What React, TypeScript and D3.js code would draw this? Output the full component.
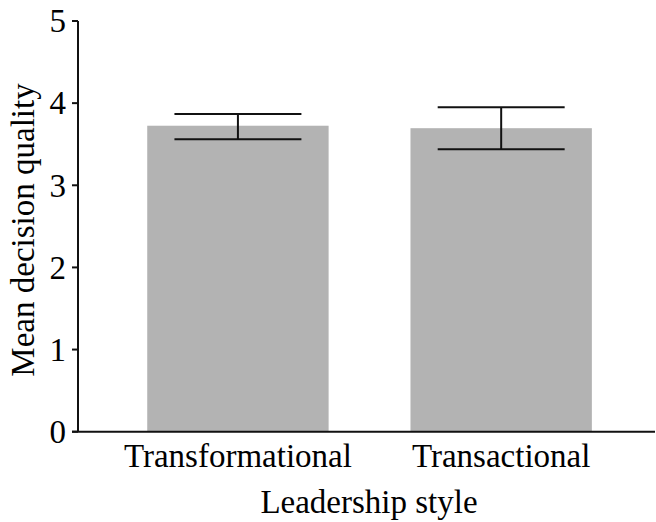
import React from "react";
import * as d3 from "d3";

const categories = ["Transformational", "Transactional"];
const means = [3.725, 3.695];
const errLow = [3.56, 3.44];
const errHigh = [3.868, 3.95];
const yTicks = [0, 1, 2, 3, 4, 5];
const xTitle = "Leadership style";
const yTitle = "Mean decision quality";

const W = 656;
const H = 522;
const axisX = 78;
const axisY = 431.7;
const yTop = 21;
const xEnd = 655;
const FONT = "'Liberation Serif', 'Times New Roman', serif";

export default function App() {
  const y = d3.scaleLinear().domain([0, 5]).range([axisY, yTop]);
  const x = d3
    .scaleBand<string>()
    .domain(categories)
    .range([106.3, 632.8])
    .paddingInner(0.311)
    .paddingOuter(0.1555);
  const bw = x.bandwidth();
  const capW = bw * 0.7;

  return (
    <svg
      width={W}
      height={H}
      style={{ position: "absolute", left: 0, top: 0, background: "#fff" }}
      fontFamily={FONT}
    >
      {categories.map((c, i) => (
        <rect
          key={c}
          x={x(c)}
          y={y(means[i])}
          width={bw}
          height={axisY - y(means[i])}
          fill="#b3b3b3"
        />
      ))}
      {categories.map((c, i) => {
        const cx = (x(c) as number) + bw / 2;
        return (
          <g key={c} stroke="#111" strokeWidth={2}>
            <line x1={cx} x2={cx} y1={y(errLow[i])} y2={y(errHigh[i])} />
            <line x1={cx - capW / 2} x2={cx + capW / 2} y1={y(errLow[i])} y2={y(errLow[i])} />
            <line x1={cx - capW / 2} x2={cx + capW / 2} y1={y(errHigh[i])} y2={y(errHigh[i])} />
          </g>
        );
      })}
      {/* y axis */}
      <line x1={axisX} x2={axisX} y1={yTop} y2={axisY} stroke="#111" strokeWidth={2} />
      {yTicks.map((t) => (
        <g key={t}>
          <line x1={axisX - 6} x2={axisX} y1={y(t)} y2={y(t)} stroke="#111" strokeWidth={2} />
          <text
            x={axisX - 12}
            y={y(t)}
            dy="0.34em"
            textAnchor="end"
            fontSize={33}
            fill="#000"
          >
            {t}
          </text>
        </g>
      ))}
      {/* x axis */}
      <line x1={axisX - 6} x2={xEnd} y1={axisY} y2={axisY} stroke="#111" strokeWidth={2} />
      {categories.map((c) => (
        <text
          key={c}
          x={(x(c) as number) + bw / 2}
          y={466.5}
          textAnchor="middle"
          fontSize={33}
          fill="#000"
        >
          {c}
        </text>
      ))}
      <text x={369} y={512.5} textAnchor="middle" fontSize={33} fill="#000">
        {xTitle}
      </text>
      <text
        transform={`translate(34, 230) rotate(-90)`}
        textAnchor="middle"
        fontSize={33}
        fill="#000"
      >
        {yTitle}
      </text>
    </svg>
  );
}
